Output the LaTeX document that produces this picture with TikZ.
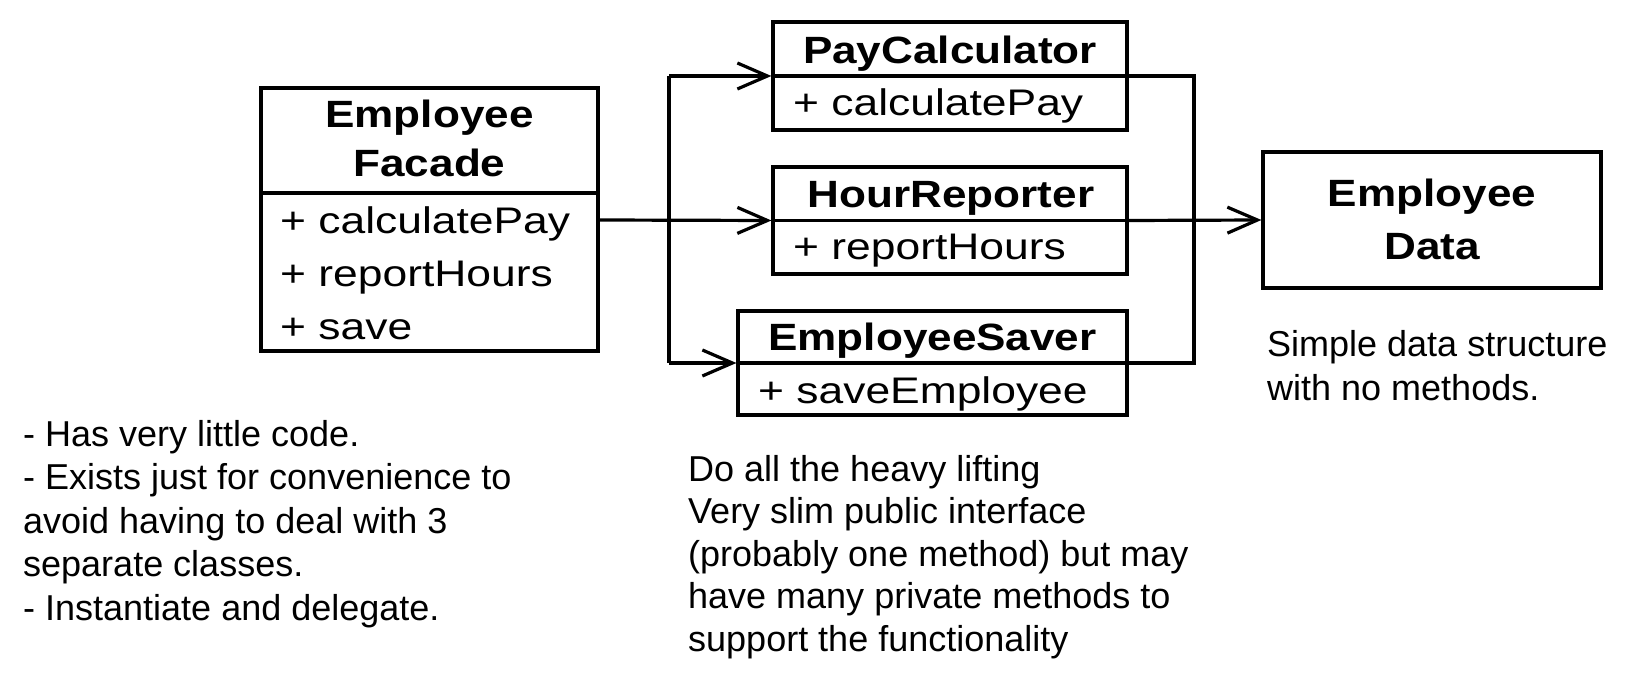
\documentclass[tikz,border=0pt]{standalone}
\usepackage{fontspec}
\setmainfont{Liberation Sans}
\newfontfamily\methfont[FakeStretch=1.2]{Liberation Sans}
\newfontfamily\titlefont[FakeStretch=1.16]{Liberation Sans}
\usetikzlibrary{arrows.meta}
\begin{document}
\begin{tikzpicture}[x=1pt,y=-1pt,
  classbox/.style={draw,line width=3.2pt,rectangle,inner sep=0pt},
  link/.style={line width=3.2pt},
  arr/.style={line width=3.2pt,-{Straight Barb[length=30pt,width=26pt,line width=3.2pt]}},
  ctitle/.style={anchor=base,inner sep=0pt,font=\titlefont\bfseries\fontsize{38}{46}\selectfont},
  cmeth/.style={anchor=base west,inner sep=0pt,font=\methfont\fontsize{37}{48}\selectfont},
  note/.style={anchor=base west,inner sep=0pt,font=\fontsize{36}{44}\selectfont}]
\useasboundingbox (0,0) rectangle (1638,684);
\fill[white] (0,0) rectangle (1638,684);

% boxes
\node[classbox,minimum width=337pt,minimum height=263pt] (fac) at (429.5,219.5) {};
\node[classbox,minimum width=354pt,minimum height=108pt] (pc) at (950,76) {};
\node[classbox,minimum width=354pt,minimum height=107pt] (hr) at (950,220.5) {};
\node[classbox,minimum width=389pt,minimum height=104pt] (es) at (932.5,363) {};
\node[classbox,minimum width=338pt,minimum height=136pt] (ed) at (1432,220) {};

% dividers
\coordinate (facdiv) at (0,193);
\draw[link] (fac.west |- facdiv) -- (fac.east |- facdiv);
\draw[link] (pc.west) -- (pc.east);
\draw[link] (hr.west) -- (hr.east);
\draw[link] (es.west) -- (es.east);

% texts in boxes
\node[ctitle] (facT1) at (429.5,128) {Employee};
\node[ctitle] (facT2) at (429.5,177) {Facade};
\node[cmeth] (facM1) at (280,234) {+ calculatePay};
\node[cmeth] (facM2) at (280,287) {+ reportHours};
\node[cmeth] (facM3) at (280,340) {+ save};

\node[ctitle] (pcT) at (950,64) {PayCalculator};
\node[cmeth] (pcM) at (793,116) {+ calculatePay};

\node[ctitle] (hrT) at (951,208) {HourReporter};
\node[cmeth] (hrM) at (793,260) {+ reportHours};

\node[ctitle] (esT) at (932.5,351) {EmployeeSaver};
\node[cmeth] (esM) at (758,403) {+ saveEmployee};

\node[ctitle] (edT1) at (1432,207) {Employee};
\node[ctitle] (edT2) at (1432,260) {Data};

% connectors
\coordinate (busL) at (669,220);
\coordinate (busR) at (1194,220);
\draw[arr] (fac.east |- busL) -- (hr.west);
\draw[link] (busL |- pc.west) -- (busL |- es.west);
\draw[arr] (busL |- pc.west) -- (pc.west);
\draw[arr] (busL |- es.west) -- (es.west);
\draw[link] (pc.east) -- (busR |- pc.east) -- (busR |- es.east) -- (es.east);
\draw[arr] (hr.east) -- (ed.west);

% notes
\node[note] (n1) at (23,446) {- Has very little code.};
\node[note] (n2) at (23,489.5) {- Exists just for convenience to};
\node[note] (n3) at (23,533) {avoid having to deal with 3};
\node[note] (n4) at (23,576.5) {separate classes.};
\node[note] (n5) at (23,620) {- Instantiate and delegate.};

\node[note] (m1) at (688,481) {Do all the heavy lifting};
\node[note] (m2) at (688,523.5) {Very slim public interface};
\node[note] (m3) at (688,566) {(probably one method) but may};
\node[note] (m4) at (688,608.5) {have many private methods to};
\node[note] (m5) at (688,651) {support the functionality};

\node[note] (r1) at (1267,357) {Simple data structure};
\node[note] (r2) at (1267,400) {with no methods.};
\end{tikzpicture}
\end{document}
